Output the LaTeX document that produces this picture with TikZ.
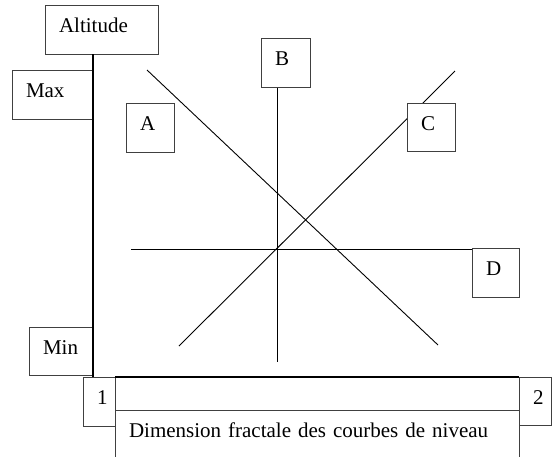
\documentclass[tikz,border=0pt]{standalone}
\usepackage{fontspec}
\setmainfont{Liberation Serif}
\usetikzlibrary{backgrounds}
\begin{document}
\begin{tikzpicture}[x=1pt,y=-1pt,
  tbox/.style n args={2}{draw=black!75, line width=1pt, fill=white, anchor=north west,
    outer sep=0pt, inner xsep=14pt, inner ysep=0pt, text width=#1, text height=27.5pt,
    text depth=#2, align=left, font=\fontsize{21}{25}\selectfont},
  axisline/.style={line width=1.8pt, black},
  thinline/.style={line width=0.9pt, black}]
\useasboundingbox (0,0) rectangle (552,456);
\clip (0,0) rectangle (552,456);
\node[tbox={85pt}{21.5pt}] (alt) at (45,5) {Altitude};
\node[tbox={53pt}{21.5pt}] (max) at (12,70) {Max};
\node[tbox={20pt}{21.5pt}] (A) at (126,103) {A};
\node[tbox={21pt}{21.5pt}] (B) at (261,38) {B};
\node[tbox={20pt}{20.5pt}] (C) at (407,103) {C};
\node[tbox={19pt}{21.5pt}] (D) at (472,248) {D};
\node[tbox={36pt}{20.5pt}] (min) at (29,327) {Min};
\node[tbox={4pt}{21.5pt}] (one) at (83,377) {1};
\node[tbox={4.5pt}{20.5pt}] (two) at (519,377) {2};
\node[tbox={376pt}{5.5pt}] (blank) at (115,377) {};
\node[tbox={376pt}{22.5pt}] (dim) at (115,410) {Dimension fractale des courbes de niveau};
\coordinate (l1a) at (147,70);
\coordinate (l1b) at (438,345);
\coordinate (l2a) at (179,346);
\coordinate (l2b) at (455,71);
\coordinate (bb) at (277,362);
\coordinate (hl) at (131,249);
\begin{scope}[on background layer]
  \draw[thinline] (l1a) -- (l1b);
  \draw[thinline] (l2a) -- (l2b);
  \draw[thinline] (bb |- B.south) -- (bb);
  \draw[thinline] (hl) -- (hl -| D.west);
\end{scope}
\draw[axisline] (max.east |- alt.south) -- (max.east |- one.north);
\draw[axisline] (blank.north west) -- (blank.north east);
\end{tikzpicture}
\end{document}
